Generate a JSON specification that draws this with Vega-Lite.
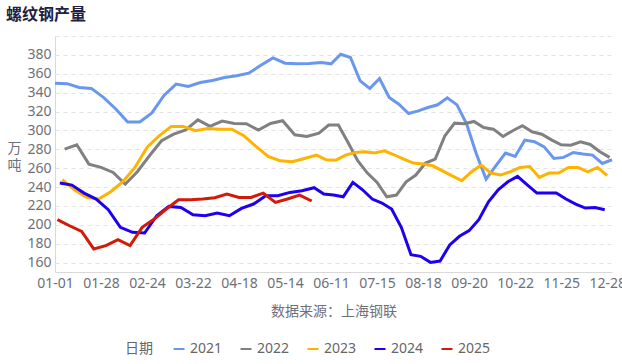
{
  "$schema": "https://vega.github.io/schema/vega-lite/v6.json",
  "width": 557,
  "height": 236,
  "autosize": "none",
  "padding": {"left": 55, "top": 36, "right": 10, "bottom": 92},
  "background": "white",
  "title": {"text": "螺纹钢产量", "anchor": "start", "frame": "group", "dx": -49, "offset": 13, "fontSize": 16, "fontWeight": "bold", "color": "#1d2140", "font": "'Noto Sans CJK SC'"},
  "config": {"view": {"stroke": null}, "font": "'Noto Sans', 'Noto Sans CJK SC'"},
  "data": {"values": [
    {"year":"2021","date":"01-01","value":350},{"year":"2021","date":"01-08","value":349.5},{"year":"2021","date":"01-15","value":345.5},{"year":"2021","date":"01-22","value":344.5},{"year":"2021","date":"01-29","value":335},{"year":"2021","date":"02-05","value":323},{"year":"2021","date":"02-12","value":309},{"year":"2021","date":"02-19","value":309},{"year":"2021","date":"02-26","value":318.5},{"year":"2021","date":"03-05","value":337},{"year":"2021","date":"03-12","value":349},{"year":"2021","date":"03-19","value":346.5},{"year":"2021","date":"03-26","value":350.7},{"year":"2021","date":"04-02","value":352.8},{"year":"2021","date":"04-09","value":356},{"year":"2021","date":"04-16","value":357.8},{"year":"2021","date":"04-23","value":360.6},{"year":"2021","date":"04-30","value":369},{"year":"2021","date":"05-07","value":376.8},{"year":"2021","date":"05-14","value":371.2},{"year":"2021","date":"05-21","value":370.5},{"year":"2021","date":"05-28","value":370.8},{"year":"2021","date":"06-04","value":371.9},{"year":"2021","date":"06-11","value":370.5},{"year":"2021","date":"06-18","value":380.7},{"year":"2021","date":"06-25","value":377.2},{"year":"2021","date":"07-02","value":352.5},{"year":"2021","date":"07-09","value":344.4},{"year":"2021","date":"07-16","value":355},{"year":"2021","date":"07-23","value":334.9},{"year":"2021","date":"07-30","value":327.8},{"year":"2021","date":"08-06","value":317.9},{"year":"2021","date":"08-13","value":320.7},{"year":"2021","date":"08-20","value":324.3},{"year":"2021","date":"08-27","value":327.1},{"year":"2021","date":"09-03","value":334.5},{"year":"2021","date":"09-10","value":327},{"year":"2021","date":"09-17","value":306.6},{"year":"2021","date":"09-24","value":275},{"year":"2021","date":"10-01","value":248.4},{"year":"2021","date":"10-08","value":262.5},{"year":"2021","date":"10-15","value":276},{"year":"2021","date":"10-22","value":272.4},{"year":"2021","date":"10-29","value":289.7},{"year":"2021","date":"11-05","value":288},{"year":"2021","date":"11-12","value":282.6},{"year":"2021","date":"11-19","value":270.3},{"year":"2021","date":"11-26","value":271.4},{"year":"2021","date":"12-03","value":276.6},{"year":"2021","date":"12-10","value":274.9},{"year":"2021","date":"12-17","value":273.8},{"year":"2021","date":"12-24","value":265},{"year":"2021","date":"12-31","value":268.9},
    {"year":"2022","date":"01-06","value":280.2},{"year":"2022","date":"01-13","value":284.8},{"year":"2022","date":"01-20","value":264.3},{"year":"2022","date":"01-28","value":260.8},{"year":"2022","date":"02-03","value":255.5},{"year":"2022","date":"02-10","value":243.1},{"year":"2022","date":"02-17","value":256.2},{"year":"2022","date":"02-25","value":273.1},{"year":"2022","date":"03-03","value":289},{"year":"2022","date":"03-10","value":296},{"year":"2022","date":"03-17","value":300.6},{"year":"2022","date":"03-24","value":311.2},{"year":"2022","date":"03-31","value":304.2},{"year":"2022","date":"04-07","value":309.8},{"year":"2022","date":"04-14","value":307.3},{"year":"2022","date":"04-21","value":307},{"year":"2022","date":"04-28","value":300.3},{"year":"2022","date":"05-05","value":307.3},{"year":"2022","date":"05-12","value":310.2},{"year":"2022","date":"05-19","value":295.3},{"year":"2022","date":"05-26","value":293.5},{"year":"2022","date":"06-02","value":297.1},{"year":"2022","date":"06-09","value":305.6},{"year":"2022","date":"06-16","value":305.6},{"year":"2022","date":"06-23","value":287.2},{"year":"2022","date":"06-30","value":267.8},{"year":"2022","date":"07-07","value":254.8},{"year":"2022","date":"07-15","value":244.9},{"year":"2022","date":"07-21","value":229.7},{"year":"2022","date":"07-28","value":231.5},{"year":"2022","date":"08-04","value":245.6},{"year":"2022","date":"08-11","value":252.7},{"year":"2022","date":"08-19","value":265.4},{"year":"2022","date":"08-25","value":269.6},{"year":"2022","date":"09-01","value":294.3},{"year":"2022","date":"09-08","value":307.7},{"year":"2022","date":"09-15","value":307},{"year":"2022","date":"09-22","value":309.5},{"year":"2022","date":"09-29","value":303.1},{"year":"2022","date":"10-06","value":301.3},{"year":"2022","date":"10-13","value":293.6},{"year":"2022","date":"10-20","value":299.6},{"year":"2022","date":"10-27","value":304.9},{"year":"2022","date":"11-03","value":298.5},{"year":"2022","date":"11-10","value":296},{"year":"2022","date":"11-17","value":290},{"year":"2022","date":"11-25","value":284.8},{"year":"2022","date":"12-01","value":284.4},{"year":"2022","date":"12-08","value":287.9},{"year":"2022","date":"12-15","value":285.1},{"year":"2022","date":"12-22","value":277.4},{"year":"2022","date":"12-29","value":271.4},
    {"year":"2023","date":"01-05","value":247.7},{"year":"2023","date":"01-12","value":237.1},{"year":"2023","date":"01-19","value":229},{"year":"2023","date":"01-26","value":227.3},{"year":"2023","date":"02-02","value":235},{"year":"2023","date":"02-09","value":245.6},{"year":"2023","date":"02-16","value":260.8},{"year":"2023","date":"02-24","value":281.9},{"year":"2023","date":"03-02","value":294.3},{"year":"2023","date":"03-09","value":304.2},{"year":"2023","date":"03-16","value":304.2},{"year":"2023","date":"03-23","value":299.6},{"year":"2023","date":"03-30","value":302},{"year":"2023","date":"04-06","value":301.3},{"year":"2023","date":"04-13","value":301.3},{"year":"2023","date":"04-20","value":294.3},{"year":"2023","date":"04-27","value":283},{"year":"2023","date":"05-04","value":272.4},{"year":"2023","date":"05-11","value":267.8},{"year":"2023","date":"05-18","value":266.8},{"year":"2023","date":"05-25","value":270.3},{"year":"2023","date":"06-01","value":273.8},{"year":"2023","date":"06-08","value":268.9},{"year":"2023","date":"06-15","value":268.5},{"year":"2023","date":"06-22","value":273.8},{"year":"2023","date":"06-29","value":276.6},{"year":"2023","date":"07-06","value":277.4},{"year":"2023","date":"07-13","value":276},{"year":"2023","date":"07-20","value":278.4},{"year":"2023","date":"07-27","value":274.2},{"year":"2023","date":"08-03","value":269.6},{"year":"2023","date":"08-10","value":265.4},{"year":"2023","date":"08-18","value":264.3},{"year":"2023","date":"08-24","value":262.5},{"year":"2023","date":"08-31","value":257.2},{"year":"2023","date":"09-07","value":251.9},{"year":"2023","date":"09-14","value":246.7},{"year":"2023","date":"09-21","value":256.2},{"year":"2023","date":"09-28","value":263.2},{"year":"2023","date":"10-05","value":254.8},{"year":"2023","date":"10-12","value":252.7},{"year":"2023","date":"10-19","value":256.2},{"year":"2023","date":"10-26","value":260.8},{"year":"2023","date":"11-02","value":261.8},{"year":"2023","date":"11-09","value":250.2},{"year":"2023","date":"11-16","value":254.8},{"year":"2023","date":"11-23","value":254.8},{"year":"2023","date":"11-30","value":260.8},{"year":"2023","date":"12-07","value":260.8},{"year":"2023","date":"12-14","value":256.2},{"year":"2023","date":"12-21","value":260.8},{"year":"2023","date":"12-28","value":252},
    {"year":"2024","date":"01-04","value":244.2},{"year":"2024","date":"01-11","value":242.1},{"year":"2024","date":"01-18","value":233.6},{"year":"2024","date":"01-25","value":227.3},{"year":"2024","date":"02-01","value":216},{"year":"2024","date":"02-08","value":197.3},{"year":"2024","date":"02-15","value":192},{"year":"2024","date":"02-22","value":191.3},{"year":"2024","date":"02-29","value":209.6},{"year":"2024","date":"03-07","value":219.5},{"year":"2024","date":"03-14","value":218.4},{"year":"2024","date":"03-22","value":210.7},{"year":"2024","date":"03-28","value":209.6},{"year":"2024","date":"04-04","value":212.5},{"year":"2024","date":"04-11","value":209.6},{"year":"2024","date":"04-19","value":217.4},{"year":"2024","date":"04-25","value":222},{"year":"2024","date":"05-02","value":230.8},{"year":"2024","date":"05-09","value":230.8},{"year":"2024","date":"05-16","value":234.3},{"year":"2024","date":"05-23","value":236.1},{"year":"2024","date":"05-30","value":239.3},{"year":"2024","date":"06-06","value":232.6},{"year":"2024","date":"06-13","value":231.5},{"year":"2024","date":"06-20","value":229.7},{"year":"2024","date":"06-27","value":244.9},{"year":"2024","date":"07-04","value":237.1},{"year":"2024","date":"07-11","value":227.3},{"year":"2024","date":"07-18","value":223},{"year":"2024","date":"07-25","value":216.7},{"year":"2024","date":"08-01","value":197.3},{"year":"2024","date":"08-08","value":168.3},{"year":"2024","date":"08-15","value":166.6},{"year":"2024","date":"08-22","value":160.2},{"year":"2024","date":"08-29","value":161.6},{"year":"2024","date":"09-05","value":178.6},{"year":"2024","date":"09-12","value":187.8},{"year":"2024","date":"09-20","value":193.8},{"year":"2024","date":"09-26","value":205.4},{"year":"2024","date":"10-03","value":224.4},{"year":"2024","date":"10-10","value":237.1},{"year":"2024","date":"10-17","value":245.6},{"year":"2024","date":"10-24","value":251.3},{"year":"2024","date":"10-31","value":242.4},{"year":"2024","date":"11-07","value":233.6},{"year":"2024","date":"11-14","value":233.6},{"year":"2024","date":"11-21","value":233.6},{"year":"2024","date":"11-28","value":227.3},{"year":"2024","date":"12-05","value":222},{"year":"2024","date":"12-12","value":217.7},{"year":"2024","date":"12-19","value":218.4},{"year":"2024","date":"12-26","value":216},
    {"year":"2025","date":"01-02","value":205.4},{"year":"2025","date":"01-09","value":199},{"year":"2025","date":"01-16","value":193},{"year":"2025","date":"01-23","value":174.4},{"year":"2025","date":"01-30","value":177.9},{"year":"2025","date":"02-06","value":184.2},{"year":"2025","date":"02-13","value":177.9},{"year":"2025","date":"02-20","value":197.3},{"year":"2025","date":"02-27","value":206.1},{"year":"2025","date":"03-06","value":216.7},{"year":"2025","date":"03-13","value":226.6},{"year":"2025","date":"03-20","value":226.6},{"year":"2025","date":"03-27","value":227.3},{"year":"2025","date":"04-03","value":228.7},{"year":"2025","date":"04-10","value":232.6},{"year":"2025","date":"04-18","value":229},{"year":"2025","date":"04-24","value":229},{"year":"2025","date":"05-01","value":233.6},{"year":"2025","date":"05-08","value":223.7},{"year":"2025","date":"05-15","value":227.3},{"year":"2025","date":"05-22","value":231.5},{"year":"2025","date":"05-29","value":225.2}
  ]},
  "mark": {"type": "line", "strokeWidth": 3, "interpolate": "linear"},
  "encoding": {
    "x": {
      "field": "date", "type": "ordinal",
      "scale": {"type": "point", "padding": 0},
      "axis": {
        "title": "数据来源：上海钢联",
        "values": ["01-01","01-28","02-24","03-22","04-18","05-14","06-11","07-15","08-18","09-20","10-22","11-25","12-28"],
        "labelAngle": 0, "ticks": false, "grid": false,
        "domainColor": "#d9d9d9", "labelColor": "#6E7079", "labelFontSize": 14,
        "labelPadding": 4, "labelFlush": false, "labelOverlap": false,
        "titleFontSize": 14, "titleColor": "#6E7079", "titleFontWeight": "normal",
        "titleY": 39, "titleBaseline": "middle"
      }
    },
    "y": {
      "field": "value", "type": "quantitative",
      "scale": {"domain": [150, 400], "nice": false, "zero": false},
      "axis": {
        "title": ["万", "吨"], "titleAngle": 0, "titleX": -41, "titleY": 105,
        "titleAlign": "center", "titleBaseline": "top", "titleLineHeight": 17,
        "titleFontSize": 14, "titleFontWeight": "normal", "titleColor": "#6E7079",
        "values": [160,180,200,220,240,260,280,300,320,340,360,380,400],
        "labelExpr": "datum.value == 400 ? '' : datum.label",
        "grid": true, "gridDash": [4, 4], "gridColor": "#e3e3e3",
        "domainColor": "#d9d9d9", "ticks": false, "labelPadding": 4,
        "labelFontSize": 14, "labelColor": "#6E7079"
      }
    },
    "color": {
      "field": "year", "type": "nominal",
      "scale": {"domain": ["2021","2022","2023","2024","2025"], "range": ["#6a97ee","#808080","#ffb300","#1e00f0","#d21a08"]},
      "legend": {
        "orient": "none", "legendX": 70, "legendY": 306, "direction": "horizontal",
        "title": "日期", "titleOrient": "left", "titleFontSize": 14, "titleFontWeight": "normal",
        "titleColor": "#666666", "labelFontSize": 14, "labelColor": "#666666",
        "symbolType": "stroke", "symbolSize": 121, "symbolStrokeWidth": 2,
        "labelOffset": 4, "columnPadding": 13, "titlePadding": 19
      }
    }
  }
}
